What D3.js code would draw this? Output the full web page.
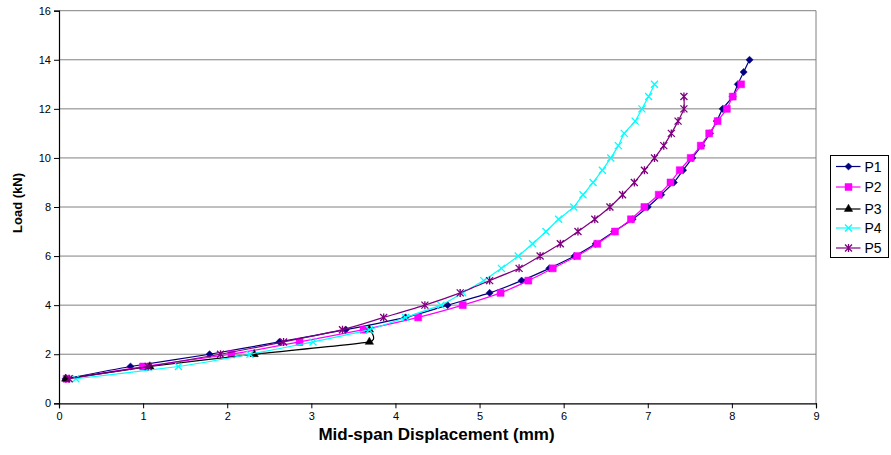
<!DOCTYPE html>
<html>
<head>
<meta charset="utf-8">
<script src="https://cdn.jsdelivr.net/npm/d3@7/dist/d3.min.js"></script>
<style>
  body { margin: 0; background: #fff; }
  text { font-family: "Liberation Sans", Arial, sans-serif; }
</style>
</head>
<body>
<div id="chart"></div>
<script>
// x ticks / y ticks
var xTicks = [0, 1, 2, 3, 4, 5, 6, 7, 8, 9];
var yTicks = [0, 2, 4, 6, 8, 10, 12, 14, 16];

// series names
var seriesNames = ["P1", "P2", "P3", "P4", "P5"];

// load values (kN)
var p1Load = [1, 1.5, 2, 2.5, 3, 3.5, 4, 4.5, 5, 5.5, 6, 6.5, 7, 7.5, 8, 8.5, 9, 9.5, 10, 10.5, 11, 11.5, 12, 12.5, 13, 13.5, 14];
var p2Load = [1, 1.5, 2, 2.5, 3, 3.5, 4, 4.5, 5, 5.5, 6, 6.5, 7, 7.5, 8, 8.5, 9, 9.5, 10, 10.5, 11, 11.5, 12, 12.5, 13];
var p3Load = [1, 1.5, 2, 2.5, 3];
var p4Load = [1, 1.5, 2, 2.5, 3, 3.5, 4, 4.5, 5, 5.5, 6, 6.5, 7, 7.5, 8, 8.5, 9, 9.5, 10, 10.5, 11, 11.5, 12, 12.5, 13];
var p5Load = [1, 1.5, 2, 2.5, 3, 3.5, 4, 4.5, 5, 5.5, 6, 6.5, 7, 7.5, 8, 8.5, 9, 9.5, 10, 10.5, 11, 11.5, 12, 12.5];

// mid-span displacement (mm)
var p1Disp = [0.08, 0.85, 1.79, 2.62, 3.41, 4.12, 4.62, 5.12, 5.50, 5.83, 6.13, 6.38, 6.60, 6.82, 7.00, 7.16, 7.31, 7.42, 7.53, 7.64, 7.74, 7.82, 7.89, 8.01, 8.07, 8.14, 8.21];
var p2Disp = [0.09, 1.00, 2.05, 2.86, 3.62, 4.27, 4.80, 5.25, 5.58, 5.87, 6.16, 6.40, 6.61, 6.80, 6.96, 7.13, 7.27, 7.38, 7.51, 7.63, 7.73, 7.83, 7.94, 8.01, 8.11];
var p3Disp = [0.08, 1.08, 2.32, 3.69, 3.69];
var p4Disp = [0.20, 1.42, 2.27, 3.02, 3.69, 4.12, 4.54, 4.80, 5.05, 5.26, 5.46, 5.63, 5.79, 5.94, 6.12, 6.23, 6.35, 6.46, 6.56, 6.65, 6.72, 6.85, 6.93, 7.01, 7.08];
var p5Disp = [0.12, 1.06, 1.92, 2.67, 3.37, 3.86, 4.35, 4.77, 5.12, 5.47, 5.72, 5.96, 6.17, 6.37, 6.55, 6.70, 6.84, 6.96, 7.08, 7.19, 7.28, 7.36, 7.43, 7.43];

var CHART = {
    width: 891,
    height: 455,
    m: {left: 59, top: 10.7, right: 75, bottom: 51.7},
    colors: ["#000080", "#ff00ff", "#000000", "#00ffff", "#800080"],
    markers: ["diamond", "square", "triangle", "cross", "star"]
};

var svg = d3.select("#chart").append("svg")
    .attr("width", CHART.width)
    .attr("height", CHART.height);

var pw = CHART.width - CHART.m.left - CHART.m.right;
var ph = CHART.height - CHART.m.top - CHART.m.bottom;

var x = d3.scaleLinear().domain([0, 9]).range([CHART.m.left, CHART.m.left + pw]);
var y = d3.scaleLinear().domain([0, 16]).range([CHART.m.top + ph, CHART.m.top]);

// gridlines
svg.append("g").selectAll("line").data(yTicks.slice(1)).join("line")
    .attr("x1", x(0)).attr("x2", x(9))
    .attr("y1", function (d) { return y(d); }).attr("y2", function (d) { return y(d); })
    .attr("stroke", "#808080").attr("stroke-width", 1);
// right border of plot area
svg.append("line")
    .attr("x1", x(9)).attr("x2", x(9)).attr("y1", y(0)).attr("y2", y(16))
    .attr("stroke", "#808080");

// axes
var xAxis = svg.append("g")
    .attr("transform", "translate(0," + y(0) + ")")
    .call(d3.axisBottom(x).tickValues(xTicks).tickSize(5).tickPadding(4).tickFormat(d3.format("d")));
var yAxis = svg.append("g")
    .attr("transform", "translate(" + x(0) + ",0)")
    .call(d3.axisLeft(y).tickValues(yTicks).tickSize(5).tickPadding(3).tickFormat(d3.format("d")));
[xAxis, yAxis].forEach(function (a) {
    a.select(".domain").attr("stroke", "#000").attr("stroke-width", 1.2);
    a.selectAll(".tick line").attr("stroke", "#000");
    a.selectAll("text").attr("font-size", 11).attr("fill", "#000")
        .attr("font-family", "'Liberation Sans', Arial, sans-serif");
});

// axis titles
svg.append("text")
    .attr("x", x(4.5) - 1).attr("y", 440)
    .attr("text-anchor", "middle")
    .attr("font-size", 17).attr("font-weight", "bold")
    .text("Mid-span Displacement (mm)");
svg.append("text")
    .attr("transform", "translate(22,203) rotate(-90)")
    .attr("text-anchor", "middle")
    .attr("font-size", 13).attr("font-weight", "bold")
    .text("Load (kN)");

/****
 * marker path, centred on 0,0
 */
function markerPath(type) {
    if (type == "diamond") return "M0,-3.6L3.6,0L0,3.6L-3.6,0Z";
    if (type == "square") return "M-3.5,-3.5H3.5V3.5H-3.5Z";
    if (type == "triangle") return d3.symbol(d3.symbolTriangle, 30)();
    if (type == "cross") return "M-3.5,-3.5L3.5,3.5M-3.5,3.5L3.5,-3.5";
    return "M-3.5,-3.5L3.5,3.5M-3.5,3.5L3.5,-3.5M0,-4V4";
}

var series = [
    {name: seriesNames[0], load: p1Load, disp: p1Disp},
    {name: seriesNames[1], load: p2Load, disp: p2Disp},
    {name: seriesNames[2], load: p3Load, disp: p3Disp},
    {name: seriesNames[3], load: p4Load, disp: p4Disp},
    {name: seriesNames[4], load: p5Load, disp: p5Disp}
];

// smoothed line, like the spreadsheet's
var line = d3.line()
    .x(function (d) { return x(d[0]); })
    .y(function (d) { return y(d[1]); })
    .curve(d3.curveCardinal.tension(0.5));

series.forEach(function (s, i) {
    var pts = s.disp.map(function (d, j) { return [d, s.load[j]]; });
    var g = svg.append("g");
    var c = CHART.colors[i];
    var open = CHART.markers[i] == "cross" || CHART.markers[i] == "star";
    g.append("path").datum(pts)
        .attr("d", line)
        .attr("fill", "none").attr("stroke", c).attr("stroke-width", 1.2);
    g.selectAll("path.mk").data(pts).join("path")
        .attr("class", "mk")
        .attr("transform", function (d) { return "translate(" + x(d[0]) + "," + y(d[1]) + ")"; })
        .attr("d", markerPath(CHART.markers[i]))
        .attr("fill", open ? "none" : c)
        .attr("stroke", c).attr("stroke-width", open ? 1.3 : 0.5);
});

// legend
var lg = svg.append("g").attr("transform", "translate(830.5,155.5)");
lg.append("rect").attr("width", 58).attr("height", 102)
    .attr("fill", "#fff").attr("stroke", "#000").attr("stroke-width", 1);
var rowY = [11, 31.5, 53.5, 72.5, 92.5];
series.forEach(function (s, i) {
    var c = CHART.colors[i];
    var open = CHART.markers[i] == "cross" || CHART.markers[i] == "star";
    var r = lg.append("g").attr("transform", "translate(0," + rowY[i] + ")");
    r.append("line").attr("x1", 5.5).attr("x2", 30)
        .attr("stroke", c).attr("stroke-width", 1.2);
    r.append("path").attr("transform", "translate(18,0)")
        .attr("d", markerPath(CHART.markers[i]))
        .attr("fill", open ? "none" : c)
        .attr("stroke", c).attr("stroke-width", open ? 1.3 : 0.5);
    r.append("text").attr("x", 34).attr("y", 5)
        .attr("font-size", 14).attr("fill", "#000")
        .text(s.name);
});
</script>
</body>
</html>
